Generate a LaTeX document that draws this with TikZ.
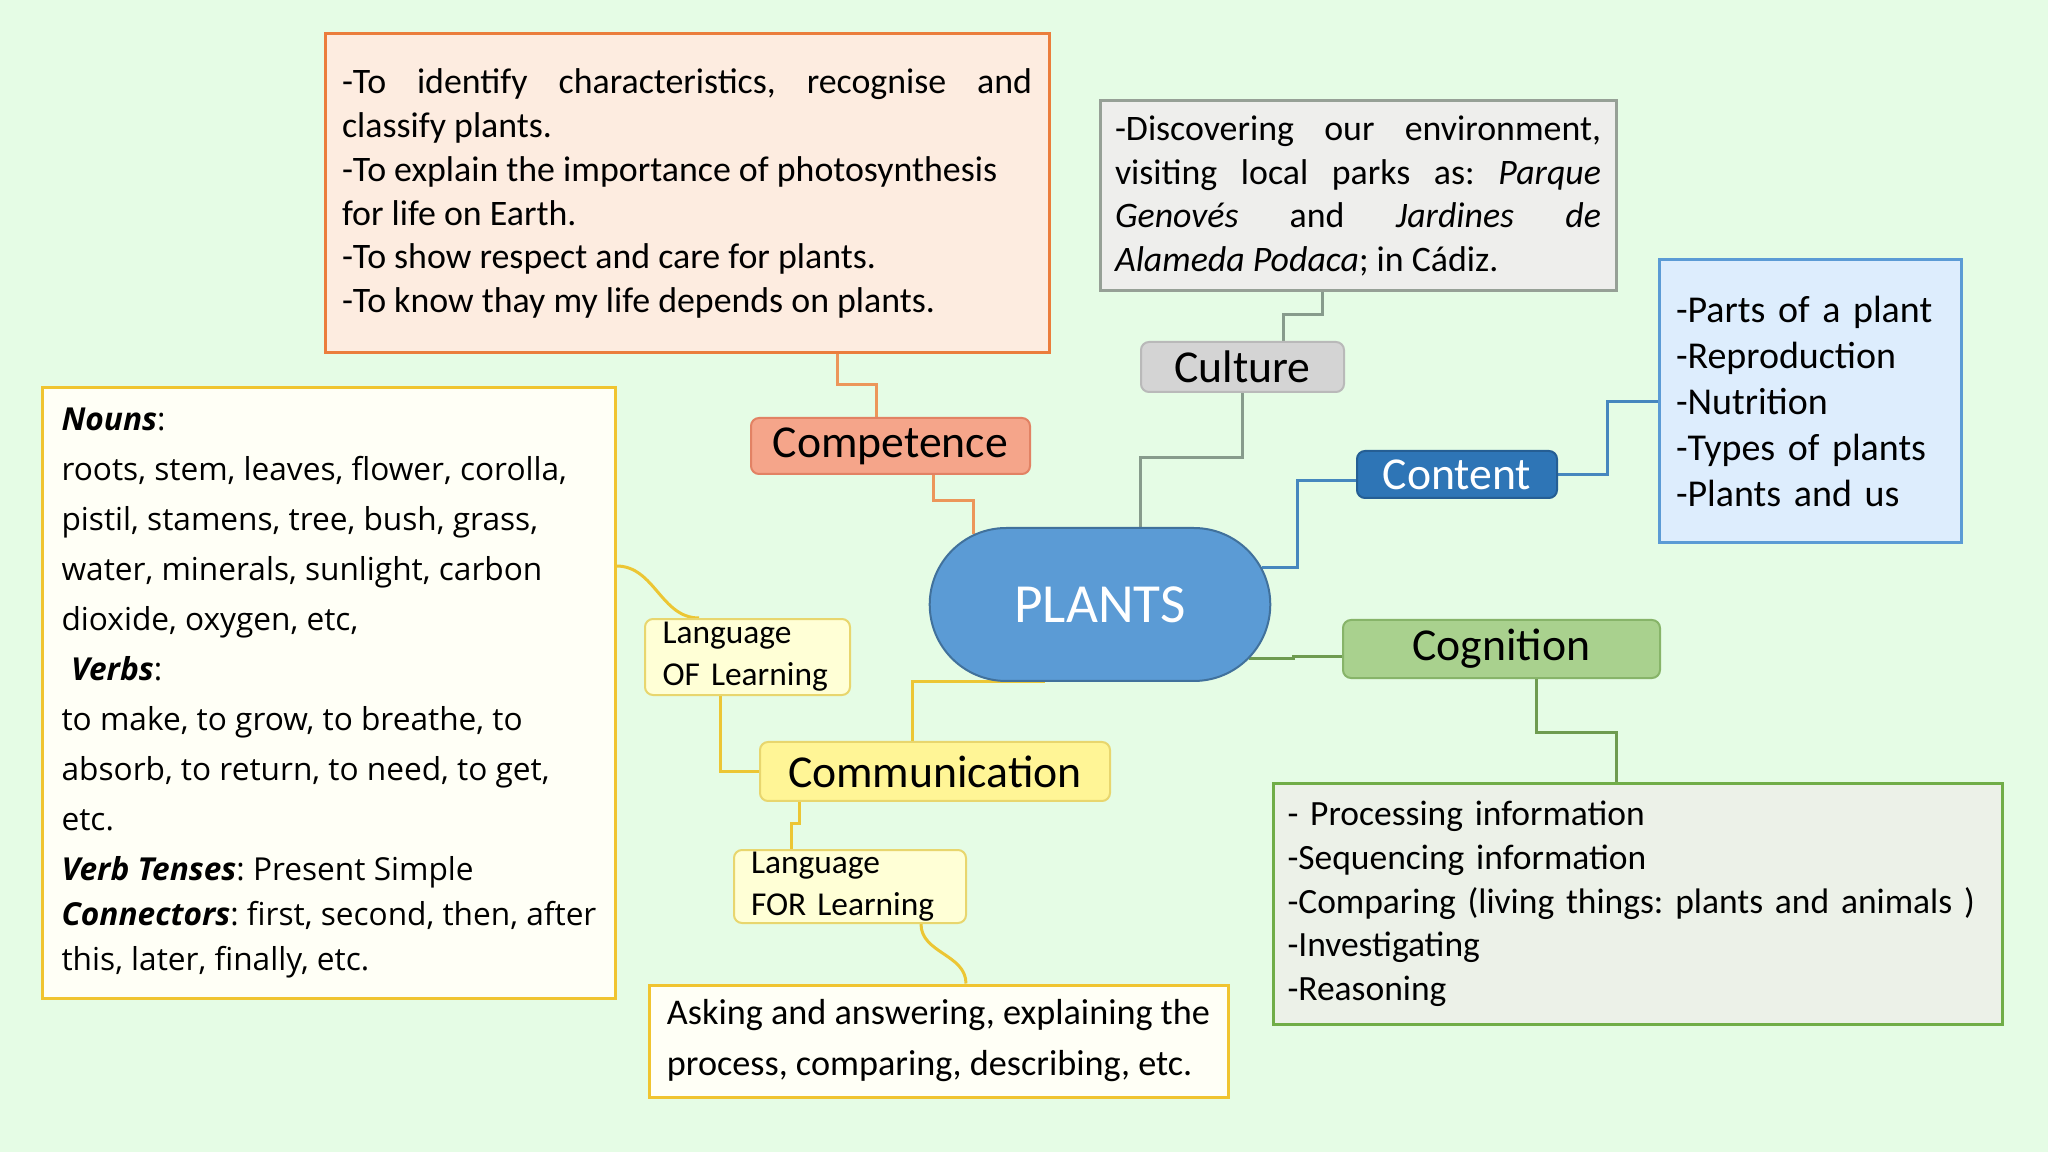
\documentclass[tikz,border=0pt]{standalone}
\usepackage{fontspec}
\setmainfont{Carlito}
\newfontfamily\vocabfont{Open Sans}
\usepackage{xcolor}
\usepackage{tikz}
\usetikzlibrary{shapes.misc, positioning, backgrounds}
\hyphenpenalty=10000
\exhyphenpenalty=10000
\frenchspacing
\definecolor{fundo}{RGB}{229,252,229}
\definecolor{laranja}{RGB}{235,125,60}
\definecolor{pessego}{RGB}{253,236,224}
\definecolor{salmao}{RGB}{245,165,138}
\definecolor{salmaoborda}{RGB}{226,130,100}
\definecolor{cinza}{RGB}{150,160,150}
\definecolor{cinzaclaro}{RGB}{238,238,236}
\definecolor{cinzano}{RGB}{212,212,212}
\definecolor{cinzaborda}{RGB}{185,185,185}
\definecolor{azul}{RGB}{46,117,182}
\definecolor{azulescuro}{RGB}{37,94,148}
\definecolor{azulclaro}{RGB}{221,237,253}
\definecolor{azulborda}{RGB}{91,155,213}
\definecolor{azulcentro}{RGB}{91,155,213}
\definecolor{azulcontorno}{RGB}{65,113,156}
\definecolor{verde}{RGB}{112,173,71}
\definecolor{verdeclaro}{RGB}{236,241,232}
\definecolor{verdeno}{RGB}{169,209,142}
\definecolor{verdeborda}{RGB}{135,180,105}
\definecolor{ouro}{RGB}{240,196,48}
\definecolor{creme}{RGB}{255,255,246}
\definecolor{amarelo}{RGB}{255,245,150}
\definecolor{amareloborda}{RGB}{232,214,110}
\definecolor{amareloclaro}{RGB}{255,255,214}
\definecolor{ligcomp}{RGB}{236,150,90}
\definecolor{ligcult}{RGB}{135,155,140}
\definecolor{ligcont}{RGB}{70,135,190}
\definecolor{ligcog}{RGB}{110,155,80}
\definecolor{ligcomm}{RGB}{236,198,52}
\tikzset{
    caixa/.style  = {line width=0.3mm, inner xsep=1.7mm, inner ysep=0pt, align=left,
                     font=\fontsize{10.2}{12.5}\selectfont},
    tema/.style   = {rounded corners=0.8mm, line width=0.2mm, inner sep=0pt,
                     font=\fontsize{13}{15}\selectfont},
    lingua/.style = {rounded corners=0.8mm, line width=0.2mm, draw=amareloborda, fill=amareloclaro,
                     inner xsep=1.75mm, inner ysep=0pt, align=left, font=\fontsize{9.5}{11.9}\selectfont},
    centro/.style = {rounded rectangle, draw=azulcontorno, fill=azulcentro, line width=0.2mm,
                     text=white, font=\fontsize{15.7}{18}\selectfont},
    lig/.style    = {line width=0.3mm},
}

\begin{document}
\begin{tikzpicture}
    \node[caixa, draw=laranja, fill=pessego, text width=69mm, align=justify, minimum height=31.9mm] (aims) at (6.87,-1.935)
        {-To identify characteristics, recognise and classify plants.\\
         -To explain the importance of photosynthesis\\
         for life on Earth.\\
         -To show respect and care for plants.\\
         -To know thay my life depends on plants.};
    \node[caixa, draw=cinza, fill=cinzaclaro, text width=48.6mm, inner xsep=1.5mm, align=justify, minimum height=19mm,
          font=\fontsize{10.2}{12.4}\selectfont] (culttxt) at (13.58,-1.96)
        {-Discovering our environment,\linebreak visiting local parks as: \textit{Parque}\linebreak
         \textit{Genovés} and \textit{Jardines de}\linebreak \textit{Alameda Podaca}; in Cádiz.};
    \node[caixa, draw=azulborda, fill=azulclaro, text width=26.8mm, minimum height=28.3mm,
          font=\fontsize{10.8}{13.1}\selectfont] (conttxt) at (18.10,-4.015)
        {-Parts of a plant\\ -Reproduction\\ -Nutrition\\ -Types of plants\\ -Plants and us};
    \node[caixa, draw=verde, fill=verdeclaro, text width=70mm, inner xsep=1.45mm, minimum height=24mm,
          font=\fontsize{10.1}{12.45}\selectfont] (cogtxt) at (16.375,-9.04)
        {- Processing information\\ -Sequencing information\\ -Comparing (living things: plants and animals )\\
         -Investigating\\ -Reasoning};
    \node[caixa, draw=ouro, fill=creme, inner xsep=1.6mm, minimum width=57.2mm, minimum height=61mm,
          font=\vocabfont\fontsize{9}{14.2}\selectfont] (vocab) at (3.29,-6.93)
        {\textbf{\textit{Nouns}}:\\
         roots, stem, leaves, flower, corolla,\\
         pistil, stamens, tree, bush, grass,\\
         water, minerals, sunlight, carbon\\
         dioxide, oxygen, etc,\\
         \hspace*{0.3em}\textbf{\textit{Verbs}}:\\
         to make, to grow, to breathe, to\\
         absorb, to return, to need, to get,\\
         etc.\\
         \textbf{\textit{Verb Tenses}}: Present Simple\\[-1.4pt]
         \textbf{\textit{Connectors}}: first, second, then, after\\[-1.4pt]
         this, later, finally, etc.};
    \node[caixa, draw=ouro, fill=creme, inner xsep=1.6mm, minimum width=57.9mm, minimum height=11.2mm,
          font=\fontsize{10.3}{14.5}\selectfont] (tasks) at (9.385,-10.41)
        {Asking and answering, explaining the\\ process, comparing, describing, etc.};

    \node[centro, minimum width=36.4mm, minimum height=15.3mm] (plants) at (11,-6.045) {PLANTS};
    \node[tema, draw=salmaoborda, fill=salmao, minimum width=27.9mm, minimum height=5.6mm] (comp) at (8.905,-4.46) {Competence};
    \node[tema, draw=cinzaborda, fill=cinzano, minimum width=20.3mm, minimum height=5mm] (cult) at (12.425,-3.67) {Culture};
    \node[tema, draw=azulescuro, fill=azul, text=white, minimum width=20mm, minimum height=4.7mm] (cont) at (14.57,-4.745) {Content};
    \node[tema, draw=verdeborda, fill=verdeno, minimum width=31.7mm, minimum height=5.8mm] (cog) at (15.015,-6.49) {Cognition};
    \node[tema, draw=amareloborda, fill=amarelo, minimum width=35mm, minimum height=5.9mm] (comm) at (9.35,-7.715) {Communication};
    \node[lingua, text width=17mm, minimum height=7.6mm] (langof) at (7.475,-6.57) {Language\\OF Learning};
    \node[lingua, text width=19.8mm, inner xsep=1.7mm, minimum height=7.3mm] (langfor) at (8.50,-8.865) {Language\\FOR Learning};

    \begin{scope}[on background layer]
        \fill[fundo] (0,0) rectangle (20.48,-11.52);
        \draw[lig, ligcomp] ([xshift=1.5cm]aims.south) -- ++(0,-0.3) -| ([xshift=-0.145cm]comp.north);
        \draw[lig, ligcomp] ([xshift=0.425cm]comp.south) -- ++(0,-0.26) -| (plants.151);
        \draw[lig, ligcult] ([xshift=-0.36cm]culttxt.south) -- ++(0,-0.22) -| ([xshift=0.405cm]cult.north);
        \draw[lig, ligcult] (cult.south) -- ++(0,-0.65) -| ([xshift=0.4cm]plants.north);
        \draw[lig, ligcont] (plants.13) -- ++(0.36,0) |- ([yshift=-0.065cm]cont.west);
        \draw[lig, ligcont] (cont.east) -- ++(0.49,0) |- (conttxt.west);
        \draw[lig, ligcog] (plants.-20) -- ++(0.44,0) |- ([yshift=-0.07cm]cog.west);
        \draw[lig, ligcog] ([xshift=0.345cm]cog.south) -- ++(0,-0.53) -| ([xshift=-0.215cm]cogtxt.north);
        \draw[lig, ligcomm] ([xshift=-0.55cm]plants.south) -| ([xshift=-0.23cm]comm.north);
        \draw[lig, ligcomm] (comm.west) -| ([xshift=-0.275cm]langof.south);
        \draw[lig, ligcomm] ([yshift=1.27cm]vocab.east) to[out=0, in=180] ([xshift=0.55cm]langof.north west);
        \draw[lig, ligcomm] ([xshift=-1.36cm]comm.south) -- ++(0,-0.22) -| ([xshift=-0.59cm]langfor.north);
        \draw[lig, ligcomm] ([xshift=0.71cm]langfor.south) to[out=-90, in=90] ([xshift=0.275cm]tasks.north);
    \end{scope}
\end{tikzpicture}
\end{document}
